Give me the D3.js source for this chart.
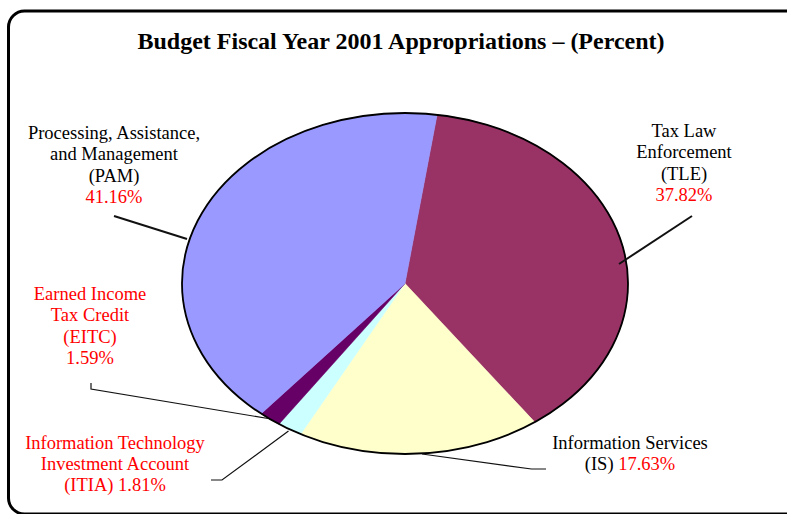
<!DOCTYPE html>
<html>
<head>
<meta charset="utf-8">
<script src="https://cdn.jsdelivr.net/npm/d3@7"></script>
<style>
  html, body { margin: 0; padding: 0; background: #fff; }
  svg { display: block; }
  text { font-family: "Liberation Serif", "Times New Roman", serif; }
</style>
</head>
<body>
<svg id="chart" width="787" height="514"></svg>
<script>
// ---- data ----
const categories = ["TLE", "IS", "ITIA", "EITC", "PAM"];
const values = [37.82, 17.63, 1.81, 1.59, 41.16];
const colors = ["#993366", "#FFFFCC", "#CCFFFF", "#660066", "#9999FF"];
const titleText = "Budget Fiscal Year 2001 Appropriations \u2013 (Percent)";

// ---- layout ----
const W = 787, H = 514;
const cx = 405, cy = 283.5, rx = 223, ry = 170.5;
const startDeg = 8.3;

const svg = d3.select("#chart");

// frame
svg.append("rect")
  .attr("x", 8.5).attr("y", 11).attr("width", 810).attr("height", 503)
  .attr("rx", 16).attr("ry", 16)
  .attr("fill", "none").attr("stroke", "#000").attr("stroke-width", 3);

// title
svg.append("text")
  .attr("x", 401).attr("y", 49)
  .attr("text-anchor", "middle")
  .attr("font-weight", "bold")
  .attr("font-size", 24)
  .text(titleText);

// pie
const pie = d3.pie().sort(null).value(d => d.v)
  .startAngle(startDeg * Math.PI / 180)
  .endAngle(startDeg * Math.PI / 180 + 2 * Math.PI);
const data = categories.map((c, i) => ({ c, v: values[i], col: colors[i] }));
const arcs = pie(data);
const arc = d3.arc().innerRadius(0).outerRadius(1);

const g = svg.append("g").attr("transform", `translate(${cx},${cy}) scale(${rx},${ry})`);
g.selectAll("path.slice").data(arcs).enter().append("path")
  .attr("class", "slice")
  .attr("d", arc)
  .attr("fill", d => d.data.col)
  .attr("stroke", d => d.data.col)
  .attr("stroke-width", 0.5)
  .attr("vector-effect", "non-scaling-stroke");
g.append("ellipse")
  .attr("cx", 0).attr("cy", 0).attr("rx", 1).attr("ry", 1)
  .attr("fill", "none").attr("stroke", "#000").attr("stroke-width", 1.8)
  .attr("vector-effect", "non-scaling-stroke");

// leader lines (layout)
const leaders = [
  { pts: [[114, 216], [187, 239]], w: 2 },
  { pts: [[692, 216], [619, 264]], w: 2 },
  { pts: [[91, 383], [91, 389], [268, 418.5]], w: 1.2 },
  { pts: [[211, 480], [222, 480], [288.5, 431]], w: 1.2 },
  { pts: [[422, 454], [531.5, 469], [546, 469]], w: 1.2 }
];
const line = d3.line();
svg.selectAll("path.leader").data(leaders).enter().append("path")
  .attr("class", "leader")
  .attr("d", d => line(d.pts))
  .attr("fill", "none").attr("stroke", "#111").attr("stroke-width", d => d.w);

// labels
const fmt = v => d3.format(".2f")(v) + "%";
const val = c => values[categories.indexOf(c)];
const RED = "#FF0000", BLK = "#000";
const labels = [
  { x: 114, y: 139, lines: [[["Processing, Assistance,", BLK]], [["and Management", BLK]], [["(PAM)", BLK]], [[fmt(val("PAM")), RED]]] },
  { x: 684, y: 137, lines: [[["Tax Law", BLK]], [["Enforcement", BLK]], [["(TLE)", BLK]], [[fmt(val("TLE")), RED]]] },
  { x: 90, y: 300, lines: [[["Earned Income", RED]], [["Tax Credit", RED]], [["(EITC)", RED]], [[fmt(val("EITC")), RED]]] },
  { x: 115, y: 448.5, lines: [[["Information Technology", RED]], [["Investment Account", RED]], [["(ITIA) " + fmt(val("ITIA")), RED]]] },
  { x: 630, y: 448.5, lines: [[["Information Services", BLK]], [["(IS) ", BLK], [fmt(val("IS")), RED]]] }
];
const lh = 21.3;
labels.forEach(L => {
  L.lines.forEach((parts, i) => {
    const t = svg.append("text")
      .attr("x", L.x).attr("y", L.y + i * lh)
      .attr("text-anchor", "middle")
      .attr("font-size", 18.5);
    parts.forEach(p => t.append("tspan").attr("fill", p[1]).text(p[0]));
  });
});
</script>
</body>
</html>
